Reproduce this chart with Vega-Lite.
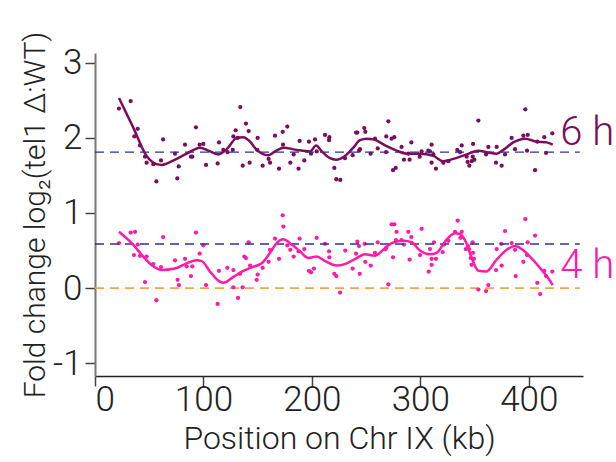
{
"$schema": "https://vega.github.io/schema/vega-lite/v6.json",
"width": 488,
"height": 323,
"autosize": {"type": "none"},
"padding": {"left": 95, "top": 53, "right": 33, "bottom": 86},
"background": "white",
"config": {
  "view": {"stroke": null},
  "font": "Roboto",
  "axis": {
    "grid": false,
    "labelFont": "Roboto",
    "labelFontWeight": 300,
    "labelFontSize": 35,
    "labelColor": "#222",
    "titleFont": "Roboto",
    "titleFontWeight": 300,
    "titleFontSize": 32,
    "titleColor": "#222",
    "tickSize": 10,
    "tickWidth": 1.5,
    "tickColor": "#444"
  }
},
"datasets": {
  "pts": [
    {"x":22.1,"y":2.39,"s":"6 h"},{"x":32.9,"y":2.49,"s":"6 h"},{"x":39.4,"y":2.12,"s":"6 h"},{"x":36.3,"y":2.02,"s":"6 h"},{"x":41.5,"y":1.90,"s":"6 h"},{"x":46.1,"y":1.75,"s":"6 h"},{"x":47.6,"y":1.67,"s":"6 h"},{"x":53.8,"y":1.65,"s":"6 h"},{"x":56.6,"y":1.42,"s":"6 h"},{"x":60.9,"y":1.70,"s":"6 h"},{"x":62.8,"y":1.98,"s":"6 h"},{"x":73.8,"y":1.79,"s":"6 h"},{"x":75.9,"y":1.46,"s":"6 h"},{"x":77.2,"y":1.62,"s":"6 h"},{"x":83.0,"y":1.91,"s":"6 h"},{"x":88.5,"y":1.75,"s":"6 h"},{"x":89.7,"y":1.75,"s":"6 h"},{"x":93.1,"y":2.14,"s":"6 h"},{"x":96.5,"y":1.91,"s":"6 h"},{"x":99.9,"y":1.92,"s":"6 h"},{"x":102.4,"y":1.64,"s":"6 h"},{"x":113.1,"y":1.66,"s":"6 h"},{"x":114.3,"y":1.94,"s":"6 h"},{"x":118.3,"y":1.84,"s":"6 h"},{"x":122.3,"y":1.81,"s":"6 h"},{"x":127.0,"y":1.84,"s":"6 h"},{"x":127.6,"y":2.02,"s":"6 h"},{"x":129.7,"y":2.10,"s":"6 h"},{"x":131.6,"y":2.00,"s":"6 h"},{"x":134.0,"y":2.41,"s":"6 h"},{"x":136.2,"y":1.63,"s":"6 h"},{"x":139.2,"y":2.19,"s":"6 h"},{"x":141.7,"y":2.09,"s":"6 h"},{"x":142.6,"y":1.67,"s":"6 h"},{"x":150.0,"y":2.00,"s":"6 h"},{"x":149.7,"y":1.84,"s":"6 h"},{"x":154.6,"y":1.63,"s":"6 h"},{"x":160.1,"y":1.72,"s":"6 h"},{"x":161.4,"y":1.67,"s":"6 h"},{"x":166.0,"y":2.03,"s":"6 h"},{"x":169.7,"y":1.59,"s":"6 h"},{"x":173.1,"y":2.08,"s":"6 h"},{"x":173.4,"y":1.91,"s":"6 h"},{"x":177.3,"y":2.15,"s":"6 h"},{"x":180.1,"y":1.67,"s":"6 h"},{"x":183.2,"y":1.78,"s":"6 h"},{"x":187.7,"y":1.59,"s":"6 h"},{"x":188.7,"y":1.96,"s":"6 h"},{"x":193.0,"y":1.70,"s":"6 h"},{"x":197.3,"y":1.95,"s":"6 h"},{"x":199.2,"y":1.79,"s":"6 h"},{"x":202.9,"y":1.98,"s":"6 h"},{"x":204.4,"y":1.82,"s":"6 h"},{"x":212.1,"y":2.04,"s":"6 h"},{"x":215.8,"y":1.97,"s":"6 h"},{"x":216.1,"y":2.01,"s":"6 h"},{"x":220.7,"y":1.60,"s":"6 h"},{"x":222.5,"y":1.45,"s":"6 h"},{"x":226.2,"y":1.44,"s":"6 h"},{"x":230.5,"y":1.73,"s":"6 h"},{"x":237.6,"y":1.77,"s":"6 h"},{"x":240.7,"y":2.07,"s":"6 h"},{"x":241.9,"y":2.07,"s":"6 h"},{"x":243.5,"y":1.83,"s":"6 h"},{"x":244.4,"y":1.85,"s":"6 h"},{"x":248.3,"y":2.13,"s":"6 h"},{"x":249.3,"y":2.08,"s":"6 h"},{"x":254.2,"y":1.79,"s":"6 h"},{"x":258.2,"y":1.99,"s":"6 h"},{"x":260.7,"y":1.86,"s":"6 h"},{"x":268.4,"y":1.81,"s":"6 h"},{"x":268.6,"y":2.02,"s":"6 h"},{"x":270.5,"y":2.22,"s":"6 h"},{"x":273.5,"y":1.99,"s":"6 h"},{"x":276.0,"y":2.01,"s":"6 h"},{"x":274.8,"y":1.57,"s":"6 h"},{"x":277.3,"y":1.60,"s":"6 h"},{"x":282.7,"y":1.88,"s":"6 h"},{"x":284.9,"y":1.71,"s":"6 h"},{"x":288.9,"y":1.79,"s":"6 h"},{"x":290.1,"y":1.71,"s":"6 h"},{"x":291.7,"y":1.94,"s":"6 h"},{"x":299.4,"y":1.75,"s":"6 h"},{"x":301.2,"y":1.82,"s":"6 h"},{"x":307.4,"y":1.83,"s":"6 h"},{"x":308.9,"y":1.82,"s":"6 h"},{"x":310.4,"y":1.91,"s":"6 h"},{"x":312.0,"y":1.78,"s":"6 h"},{"x":310.4,"y":1.67,"s":"6 h"},{"x":314.4,"y":1.59,"s":"6 h"},{"x":321.2,"y":1.67,"s":"6 h"},{"x":325.8,"y":1.69,"s":"6 h"},{"x":334.1,"y":1.84,"s":"6 h"},{"x":338.2,"y":1.90,"s":"6 h"},{"x":336.6,"y":1.81,"s":"6 h"},{"x":342.7,"y":1.75,"s":"6 h"},{"x":343.6,"y":1.68,"s":"6 h"},{"x":345.2,"y":1.63,"s":"6 h"},{"x":347.4,"y":1.69,"s":"6 h"},{"x":348.3,"y":1.75,"s":"6 h"},{"x":349.8,"y":1.71,"s":"6 h"},{"x":348.6,"y":1.92,"s":"6 h"},{"x":353.5,"y":2.23,"s":"6 h"},{"x":360.6,"y":1.78,"s":"6 h"},{"x":362.7,"y":1.88,"s":"6 h"},{"x":369.8,"y":1.67,"s":"6 h"},{"x":370.4,"y":1.88,"s":"6 h"},{"x":375.0,"y":1.63,"s":"6 h"},{"x":378.1,"y":1.78,"s":"6 h"},{"x":384.2,"y":2.00,"s":"6 h"},{"x":387.3,"y":1.85,"s":"6 h"},{"x":395.0,"y":2.03,"s":"6 h"},{"x":399.0,"y":2.04,"s":"6 h"},{"x":396.8,"y":2.38,"s":"6 h"},{"x":398.4,"y":1.83,"s":"6 h"},{"x":405.8,"y":1.57,"s":"6 h"},{"x":407.9,"y":1.95,"s":"6 h"},{"x":414.3,"y":2.01,"s":"6 h"},{"x":415.9,"y":1.80,"s":"6 h"},{"x":421.7,"y":2.06,"s":"6 h"},
    {"x":22.1,"y":0.60,"s":"4 h"},{"x":32.9,"y":0.74,"s":"4 h"},{"x":36.9,"y":0.75,"s":"4 h"},{"x":39.4,"y":0.58,"s":"4 h"},{"x":35.9,"y":0.44,"s":"4 h"},{"x":41.5,"y":0.43,"s":"4 h"},{"x":47.6,"y":0.42,"s":"4 h"},{"x":53.8,"y":0.32,"s":"4 h"},{"x":60.9,"y":0.28,"s":"4 h"},{"x":46.1,"y":0.08,"s":"4 h"},{"x":62.8,"y":0.68,"s":"4 h"},{"x":56.6,"y":-0.16,"s":"4 h"},{"x":73.8,"y":0.37,"s":"4 h"},{"x":76.2,"y":0.11,"s":"4 h"},{"x":77.4,"y":0.04,"s":"4 h"},{"x":83.0,"y":0.39,"s":"4 h"},{"x":84.5,"y":0.29,"s":"4 h"},{"x":88.5,"y":0.16,"s":"4 h"},{"x":89.7,"y":0.29,"s":"4 h"},{"x":93.1,"y":0.74,"s":"4 h"},{"x":96.5,"y":0.46,"s":"4 h"},{"x":99.9,"y":0.57,"s":"4 h"},{"x":102.4,"y":0.04,"s":"4 h"},{"x":113.1,"y":-0.21,"s":"4 h"},{"x":114.3,"y":0.23,"s":"4 h"},{"x":122.0,"y":0.27,"s":"4 h"},{"x":127.6,"y":0.24,"s":"4 h"},{"x":127.6,"y":0.01,"s":"4 h"},{"x":131.9,"y":-0.13,"s":"4 h"},{"x":133.7,"y":0.19,"s":"4 h"},{"x":136.2,"y":0.01,"s":"4 h"},{"x":137.7,"y":0.42,"s":"4 h"},{"x":139.2,"y":0.40,"s":"4 h"},{"x":141.7,"y":0.61,"s":"4 h"},{"x":143.0,"y":0.30,"s":"4 h"},{"x":149.1,"y":0.11,"s":"4 h"},{"x":150.0,"y":0.18,"s":"4 h"},{"x":154.6,"y":0.27,"s":"4 h"},{"x":160.1,"y":0.35,"s":"4 h"},{"x":161.4,"y":0.51,"s":"4 h"},{"x":166.0,"y":0.66,"s":"4 h"},{"x":169.7,"y":0.39,"s":"4 h"},{"x":173.1,"y":0.97,"s":"4 h"},{"x":173.7,"y":0.82,"s":"4 h"},{"x":177.3,"y":0.57,"s":"4 h"},{"x":180.1,"y":0.51,"s":"4 h"},{"x":183.2,"y":0.42,"s":"4 h"},{"x":187.7,"y":0.49,"s":"4 h"},{"x":188.7,"y":0.66,"s":"4 h"},{"x":193.0,"y":0.52,"s":"4 h"},{"x":197.3,"y":0.23,"s":"4 h"},{"x":199.2,"y":0.21,"s":"4 h"},{"x":201.9,"y":0.26,"s":"4 h"},{"x":204.4,"y":0.67,"s":"4 h"},{"x":212.1,"y":0.59,"s":"4 h"},{"x":215.8,"y":0.49,"s":"4 h"},{"x":216.1,"y":0.41,"s":"4 h"},{"x":220.7,"y":0.19,"s":"4 h"},{"x":222.5,"y":0.16,"s":"4 h"},{"x":226.0,"y":-0.06,"s":"4 h"},{"x":230.8,"y":0.50,"s":"4 h"},{"x":237.6,"y":0.26,"s":"4 h"},{"x":240.7,"y":0.46,"s":"4 h"},{"x":241.9,"y":0.62,"s":"4 h"},{"x":244.1,"y":0.19,"s":"4 h"},{"x":243.4,"y":0.56,"s":"4 h"},{"x":248.7,"y":0.59,"s":"4 h"},{"x":249.3,"y":0.35,"s":"4 h"},{"x":254.2,"y":0.30,"s":"4 h"},{"x":258.2,"y":0.47,"s":"4 h"},{"x":260.7,"y":0.61,"s":"4 h"},{"x":268.0,"y":0.52,"s":"4 h"},{"x":268.6,"y":0.54,"s":"4 h"},{"x":270.5,"y":0.05,"s":"4 h"},{"x":273.5,"y":0.85,"s":"4 h"},{"x":276.0,"y":0.85,"s":"4 h"},{"x":278.1,"y":0.75,"s":"4 h"},{"x":277.5,"y":0.64,"s":"4 h"},{"x":274.8,"y":0.41,"s":"4 h"},{"x":282.7,"y":0.64,"s":"4 h"},{"x":284.9,"y":0.58,"s":"4 h"},{"x":288.9,"y":0.75,"s":"4 h"},{"x":291.7,"y":0.68,"s":"4 h"},{"x":290.1,"y":0.38,"s":"4 h"},{"x":301.2,"y":0.79,"s":"4 h"},{"x":299.7,"y":0.44,"s":"4 h"},{"x":307.8,"y":0.22,"s":"4 h"},{"x":308.9,"y":0.52,"s":"4 h"},{"x":310.4,"y":0.39,"s":"4 h"},{"x":310.4,"y":0.31,"s":"4 h"},{"x":312.6,"y":0.61,"s":"4 h"},{"x":314.4,"y":0.39,"s":"4 h"},{"x":320.6,"y":0.48,"s":"4 h"},{"x":321.8,"y":0.58,"s":"4 h"},{"x":325.8,"y":0.63,"s":"4 h"},{"x":332.0,"y":0.75,"s":"4 h"},{"x":334.4,"y":0.90,"s":"4 h"},{"x":337.0,"y":0.67,"s":"4 h"},{"x":338.2,"y":0.75,"s":"4 h"},{"x":341.9,"y":0.52,"s":"4 h"},{"x":344.0,"y":0.56,"s":"4 h"},{"x":345.0,"y":0.52,"s":"4 h"},{"x":346.5,"y":0.40,"s":"4 h"},{"x":348.2,"y":0.61,"s":"4 h"},{"x":348.5,"y":0.47,"s":"4 h"},{"x":349.4,"y":0.39,"s":"4 h"},{"x":347.3,"y":0.31,"s":"4 h"},{"x":353.5,"y":-0.02,"s":"4 h"},{"x":360.6,"y":-0.04,"s":"4 h"},{"x":362.7,"y":0.04,"s":"4 h"},{"x":369.8,"y":0.24,"s":"4 h"},{"x":370.4,"y":0.52,"s":"4 h"},{"x":375.0,"y":0.30,"s":"4 h"},{"x":378.1,"y":0.76,"s":"4 h"},{"x":374.6,"y":0.59,"s":"4 h"},{"x":384.2,"y":0.60,"s":"4 h"},{"x":387.3,"y":0.51,"s":"4 h"},{"x":387.9,"y":0.16,"s":"4 h"},{"x":395.0,"y":0.35,"s":"4 h"},{"x":396.8,"y":0.92,"s":"4 h"},{"x":399.0,"y":0.61,"s":"4 h"},{"x":398.4,"y":0.44,"s":"4 h"},{"x":405.8,"y":0.70,"s":"4 h"},{"x":407.9,"y":0.07,"s":"4 h"},{"x":410.5,"y":-0.08,"s":"4 h"},{"x":414.3,"y":0.23,"s":"4 h"},{"x":415.9,"y":0.16,"s":"4 h"},{"x":421.7,"y":0.22,"s":"4 h"}
  ],
  "fit": [
    {"x":22.1,"y":2.53,"s":"6 h"},{"x":35.2,"y":2.14,"s":"6 h"},{"x":47.6,"y":1.76,"s":"6 h"},{"x":56.9,"y":1.65,"s":"6 h"},{"x":61.5,"y":1.64,"s":"6 h"},{"x":73.8,"y":1.71,"s":"6 h"},{"x":84.5,"y":1.79,"s":"6 h"},{"x":96.8,"y":1.87,"s":"6 h"},{"x":104.5,"y":1.83,"s":"6 h"},{"x":113.7,"y":1.78,"s":"6 h"},{"x":121.5,"y":1.85,"s":"6 h"},{"x":130.7,"y":2.00,"s":"6 h"},{"x":136.8,"y":2.01,"s":"6 h"},{"x":143.0,"y":1.95,"s":"6 h"},{"x":149.1,"y":1.84,"s":"6 h"},{"x":159.8,"y":1.77,"s":"6 h"},{"x":165.0,"y":1.81,"s":"6 h"},{"x":173.7,"y":1.87,"s":"6 h"},{"x":186.0,"y":1.84,"s":"6 h"},{"x":198.4,"y":1.82,"s":"6 h"},{"x":203.9,"y":1.90,"s":"6 h"},{"x":209.1,"y":1.82,"s":"6 h"},{"x":216.7,"y":1.73,"s":"6 h"},{"x":222.3,"y":1.71,"s":"6 h"},{"x":230.5,"y":1.76,"s":"6 h"},{"x":238.2,"y":1.87,"s":"6 h"},{"x":244.4,"y":1.97,"s":"6 h"},{"x":250.5,"y":1.99,"s":"6 h"},{"x":256.7,"y":1.98,"s":"6 h"},{"x":268.9,"y":1.89,"s":"6 h"},{"x":278.1,"y":1.83,"s":"6 h"},{"x":287.4,"y":1.79,"s":"6 h"},{"x":299.7,"y":1.79,"s":"6 h"},{"x":312.0,"y":1.76,"s":"6 h"},{"x":321.2,"y":1.69,"s":"6 h"},{"x":330.4,"y":1.72,"s":"6 h"},{"x":342.7,"y":1.78,"s":"6 h"},{"x":353.5,"y":1.83,"s":"6 h"},{"x":361.2,"y":1.81,"s":"6 h"},{"x":370.4,"y":1.79,"s":"6 h"},{"x":376.5,"y":1.84,"s":"6 h"},{"x":385.7,"y":1.94,"s":"6 h"},{"x":396.5,"y":1.99,"s":"6 h"},{"x":407.3,"y":1.95,"s":"6 h"},{"x":416.5,"y":1.94,"s":"6 h"},{"x":422.1,"y":1.91,"s":"6 h"},
    {"x":22.1,"y":0.75,"s":"4 h"},{"x":35.1,"y":0.58,"s":"4 h"},{"x":44.5,"y":0.42,"s":"4 h"},{"x":53.8,"y":0.29,"s":"4 h"},{"x":61.5,"y":0.24,"s":"4 h"},{"x":73.8,"y":0.26,"s":"4 h"},{"x":84.5,"y":0.33,"s":"4 h"},{"x":93.8,"y":0.37,"s":"4 h"},{"x":98.4,"y":0.36,"s":"4 h"},{"x":106.1,"y":0.22,"s":"4 h"},{"x":113.7,"y":0.10,"s":"4 h"},{"x":118.3,"y":0.07,"s":"4 h"},{"x":127.6,"y":0.15,"s":"4 h"},{"x":136.8,"y":0.23,"s":"4 h"},{"x":143.0,"y":0.27,"s":"4 h"},{"x":153.7,"y":0.33,"s":"4 h"},{"x":161.4,"y":0.47,"s":"4 h"},{"x":167.5,"y":0.60,"s":"4 h"},{"x":173.7,"y":0.65,"s":"4 h"},{"x":181.4,"y":0.58,"s":"4 h"},{"x":189.1,"y":0.49,"s":"4 h"},{"x":196.7,"y":0.40,"s":"4 h"},{"x":204.4,"y":0.42,"s":"4 h"},{"x":212.1,"y":0.36,"s":"4 h"},{"x":222.8,"y":0.30,"s":"4 h"},{"x":232.1,"y":0.33,"s":"4 h"},{"x":241.3,"y":0.40,"s":"4 h"},{"x":248.9,"y":0.45,"s":"4 h"},{"x":258.2,"y":0.43,"s":"4 h"},{"x":265.8,"y":0.51,"s":"4 h"},{"x":273.5,"y":0.60,"s":"4 h"},{"x":284.3,"y":0.63,"s":"4 h"},{"x":292.0,"y":0.61,"s":"4 h"},{"x":299.7,"y":0.50,"s":"4 h"},{"x":308.9,"y":0.45,"s":"4 h"},{"x":315.0,"y":0.47,"s":"4 h"},{"x":322.7,"y":0.62,"s":"4 h"},{"x":332.0,"y":0.73,"s":"4 h"},{"x":336.6,"y":0.72,"s":"4 h"},{"x":342.1,"y":0.61,"s":"4 h"},{"x":347.4,"y":0.40,"s":"4 h"},{"x":353.5,"y":0.23,"s":"4 h"},{"x":360.6,"y":0.22,"s":"4 h"},{"x":370.4,"y":0.38,"s":"4 h"},{"x":379.6,"y":0.51,"s":"4 h"},{"x":387.3,"y":0.56,"s":"4 h"},{"x":393.4,"y":0.52,"s":"4 h"},{"x":401.1,"y":0.42,"s":"4 h"},{"x":410.3,"y":0.27,"s":"4 h"},{"x":416.5,"y":0.16,"s":"4 h"},{"x":422.1,"y":0.04,"s":"4 h"}
  ],
  "labels": [
    {"x":429,"y":2.06,"t":"6 h","s":"6 h"},
    {"x":429,"y":0.29,"t":"4 h","s":"4 h"}
  ]
},
"layer": [
  {
    "data": {"values": [{"y":0.0,"x0":0,"x1":447}]},
    "mark": {"type": "rule", "stroke": "#f4a44a", "strokeWidth": 1.6, "strokeDash": [9, 6]},
    "encoding": {"x": {"field": "x0", "type": "quantitative"}, "x2": {"field": "x1"}, "y": {"field": "y", "type": "quantitative"}}
  },
  {
    "data": {"name": "pts"},
    "mark": {"type": "circle", "size": 18, "opacity": 1},
    "encoding": {
      "x": {"field": "x", "type": "quantitative", "scale": {"domain": [0, 450], "nice": false, "zero": false},
        "axis": {"values": [0, 100, 200, 300, 400], "title": "Position on Chr IX (kb)", "domainColor": "#222", "domainWidth": 1.5, "labelPadding": -4, "titlePadding": 6}},
      "y": {"field": "y", "type": "quantitative", "scale": {"domain": [-1.17, 3.13], "nice": false, "zero": false},
        "axis": {"values": [-1, 0, 1, 2, 3], "labelExpr": "'' + datum.value", "title": "Fold change log₂(tel1 Δ:WT)", "titleFontSize": 30, "domainColor": "#777", "domainWidth": 2, "labelPadding": 3, "titlePadding": 2}},
      "color": {"field": "s", "type": "nominal", "scale": {"domain": ["6 h", "4 h"], "range": ["#7a0e5c", "#ff1aa8"]}, "legend": null}
    }
  },
  {
    "data": {"values": [{"y":1.81,"x0":0,"x1":447},{"y":0.587,"x0":0,"x1":447}]},
    "mark": {"type": "rule", "stroke": "#2a30a0", "strokeWidth": 1.4, "strokeDash": [9, 6]},
    "encoding": {"x": {"field": "x0", "type": "quantitative"}, "x2": {"field": "x1"}, "y": {"field": "y", "type": "quantitative"}}
  },
  {
    "data": {"name": "fit"},
    "mark": {"type": "line", "strokeWidth": 2.5, "interpolate": "monotone"},
    "encoding": {
      "x": {"field": "x", "type": "quantitative"},
      "y": {"field": "y", "type": "quantitative"},
      "color": {"field": "s", "type": "nominal"},
      "detail": {"field": "s"}
    }
  },
  {
    "data": {"name": "labels"},
    "mark": {"type": "text", "align": "left", "baseline": "middle", "fontSize": 40, "font": "Roboto", "fontWeight": 300},
    "encoding": {
      "x": {"field": "x", "type": "quantitative"},
      "y": {"field": "y", "type": "quantitative"},
      "text": {"field": "t"},
      "color": {"field": "s", "type": "nominal"}
    }
  }
]
}
